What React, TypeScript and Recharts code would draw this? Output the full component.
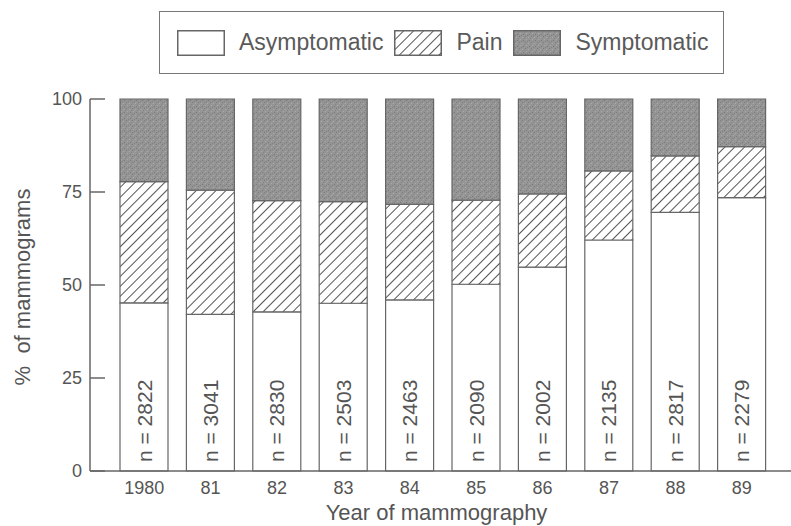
import { BarChart, Bar, XAxis, YAxis, Legend, LabelList, Label } from 'recharts';

const years = ['1980', '81', '82', '83', '84', '85', '86', '87', '88', '89'];
const asymptomatic = [45.2, 42.1, 42.8, 45.1, 46.0, 50.2, 54.8, 62.1, 69.5, 73.5];
const pain = [32.6, 33.4, 29.9, 27.3, 25.7, 22.6, 19.7, 18.6, 15.2, 13.7];
const symptomatic = [22.2, 24.5, 27.3, 27.6, 28.3, 27.2, 25.5, 19.3, 15.3, 12.8];
const counts = [2822, 3041, 2830, 2503, 2463, 2090, 2002, 2135, 2817, 2279];
const yTicks = [0, 25, 50, 75, 100];

const data = years.map((year, i) => ({
    year,
    asymptomatic: asymptomatic[i],
    pain: pain[i],
    symptomatic: symptomatic[i],
    n: counts[i]
}));

const FONT = '"Liberation Sans", Arial, Helvetica, sans-serif';
const TEXT = '#555';
const EDGE = '#666';

const legendItems = [
    { name: 'Asymptomatic', fill: '#fff' },
    { name: 'Pain', fill: 'url(#hatch)' },
    { name: 'Symptomatic', fill: 'url(#stipple)' }
];

function LegendBox() {
    return (
        <div style={{
            boxSizing: 'border-box', width: 565, height: 63, border: '1.5px solid #777',
            display: 'flex', alignItems: 'center', paddingLeft: 17, fontFamily: FONT,
            fontSize: 23, color: '#5a5a5a'
        }}>
            {legendItems.map(item => (
                <div key={item.name} style={{ display: 'flex', alignItems: 'center', marginRight: 11 }}>
                    <svg width={48} height={26} style={{ marginRight: 14 }}>
                        <rect x={0.75} y={0.75} width={46.5} height={24.5} fill={item.fill} stroke={EDGE} strokeWidth={1.5} />
                    </svg>
                    <span>{item.name}</span>
                </div>
            ))}
        </div>
    );
}

function CountLabel(props: any) {
    const vb = props.viewBox ?? props;
    const cx = vb.x + vb.width / 2;
    const y = vb.y + vb.height - 9;
    return (
        <text x={cx} y={y} transform={`rotate(-90 ${cx} ${y})`} textAnchor="start"
            dominantBaseline="central" fontSize={21} fill={TEXT} fontFamily={FONT}>
            n = {props.value}
        </text>
    );
}

function YTitle(props: any) {
    const vb = props.viewBox;
    const x = 22;
    const y = vb.y + vb.height / 2 + 2;
    return (
        <text x={x} y={y} transform={`rotate(-90 ${x} ${y})`} textAnchor="middle"
            dominantBaseline="central" fontSize={22} fill={TEXT} fontFamily={FONT}>
            {'%\u00a0\u00a0of mammograms'}
        </text>
    );
}

export default function App() {
    return (
        <div style={{ position: 'absolute', left: 0, top: 0, background: '#fff', fontFamily: FONT }}>
            <BarChart width={791} height={526} data={data} barSize={48}
                margin={{ top: 99, right: 0, bottom: 0, left: 0 }} style={{ fontFamily: FONT }}>
                <defs>
                    <pattern id="hatch" patternUnits="userSpaceOnUse" width={7} height={7} patternTransform="rotate(45)">
                        <rect width={7} height={7} fill="#fff" />
                        <line x1={0} y1={0} x2={0} y2={7} stroke="#555" strokeWidth={2} />
                    </pattern>
                    <pattern id="stipple" patternUnits="userSpaceOnUse" width={6} height={6}>
                        <rect width={6} height={6} fill="#959595" />
                        <rect x={0} y={0} width={1} height={1} fill="#7a7a7a" />
                        <rect x={3} y={1} width={1} height={1} fill="#aaa" />
                        <rect x={1} y={3} width={1} height={1} fill="#a8a8a8" />
                        <rect x={4} y={4} width={1} height={1} fill="#777" />
                        <rect x={2} y={5} width={1} height={1} fill="#808080" />
                        <rect x={5} y={2} width={1} height={1} fill="#858585" />
                    </pattern>
                </defs>
                <XAxis dataKey="year" height={55} padding={{ left: 21, right: 16 }}
                    tickLine={false} tickSize={0} tickMargin={10}
                    axisLine={{ stroke: EDGE, strokeWidth: 1.5 }}
                    tick={{ fill: TEXT, fontSize: 18, fontFamily: FONT }}>
                    <Label value="Year of mammography" position="insideBottom" offset={6} dx={-4}
                        fill={TEXT} fontSize={22} fontFamily={FONT} />
                </XAxis>
                <YAxis width={90} domain={[0, 100]} ticks={yTicks} interval={0}
                    tickSize={-15} tickMargin={23}
                    axisLine={{ stroke: EDGE, strokeWidth: 1.5 }}
                    tickLine={{ stroke: EDGE, strokeWidth: 1.5 }}
                    tick={{ fill: TEXT, fontSize: 18, fontFamily: FONT }}>
                    <Label content={YTitle} />
                </YAxis>
                <Legend layout="vertical" align="center" verticalAlign="middle"
                    wrapperStyle={{ top: 11, left: 159, width: 565, height: 63 }}
                    content={() => <LegendBox />} />
                <Bar dataKey="asymptomatic" stackId="a" fill="#fff" stroke={EDGE} strokeWidth={1.2} isAnimationActive={false}>
                    <LabelList dataKey="n" content={CountLabel} />
                </Bar>
                <Bar dataKey="pain" stackId="a" fill="url(#hatch)" stroke={EDGE} strokeWidth={1.2} isAnimationActive={false} />
                <Bar dataKey="symptomatic" stackId="a" fill="url(#stipple)" stroke={EDGE} strokeWidth={1.2} isAnimationActive={false} />
            </BarChart>
        </div>
    );
}
